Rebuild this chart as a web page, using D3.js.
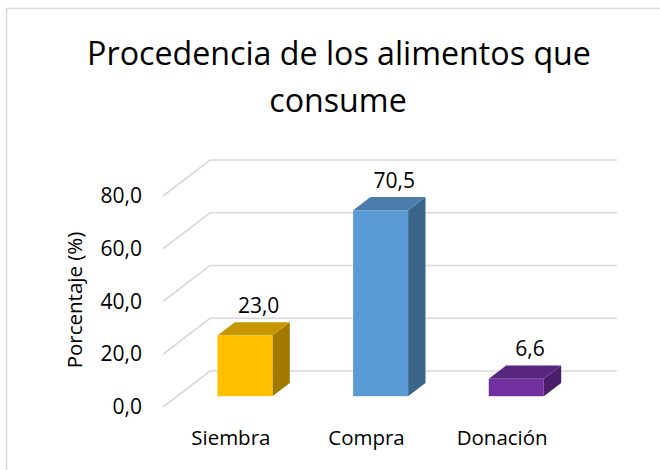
<!DOCTYPE html>
<html>
<head>
<meta charset="utf-8">
<script src="https://cdn.jsdelivr.net/npm/d3@7"></script>
<style>
  body { margin: 0; background: #fff; }
  text { font-family: "Open Sans", "Noto Sans", sans-serif; fill: #000; }
</style>
</head>
<body>
<svg id="chart" width="660" height="470"></svg>
<script>
// datos del grafico
const categories = ["Siembra", "Compra", "Donación"];
const values = [23.0, 70.5, 6.6];
const ticks = [0, 20, 40, 60, 80];
const frontColors = ["#FFC000", "#5B9BD5", "#7030A0"];
const sideColors = ["#A37A00", "#3B6489", "#4A1E6B"];
const topColors = ["#C69700", "#4A7DAB", "#58257F"];

const svg = d3.select("#chart");
const fmt = v => d3.format(".1f")(v).replace(".", ",");

// borde del area del grafico
svg.append("rect")
  .attr("x", 6.5).attr("y", 8.5)
  .attr("width", 700).attr("height", 500)
  .attr("fill", "#fff").attr("stroke", "#D9D9D9").attr("stroke-width", 1.5);

// proyeccion 3D simple: origen frente-piso, vector de profundidad
const x0 = 163, y0 = 407, depthX = 47, depthY = 36;
const x = d3.scaleBand().domain(categories).range([0, 407]);
const y = d3.scaleLinear().domain([0, 80]).range([0, 211]);
const P = (px, v, t) => [x0 + px + t * depthX, y0 - y(v) - t * depthY];

// lineas de cuadricula (pared izquierda + pared del fondo)
const grid = svg.append("g").attr("class", "grid");
ticks.forEach(t => {
  const a = P(0, t, 0), b = P(0, t, 1), c = P(407, t, 1);
  grid.append("path")
    .attr("d", d3.line()([a, b, c]))
    .attr("fill", "none").attr("stroke", "#D9D9D9").attr("stroke-width", 1.6);
});

// etiquetas del eje Y
svg.append("g").selectAll("text")
  .data(ticks).enter().append("text")
  .attr("x", 142)
  .attr("y", d => P(0, d, 0)[1] + 7)
  .attr("text-anchor", "end")
  .attr("font-size", 21)
  .text(d => fmt(d));

// barras
const barT = 0.3, barD = 0.37, barW = 55;
const bars = svg.append("g").attr("class", "bars");
categories.forEach((c, i) => {
  const cx = x(c) + x.bandwidth() / 2;
  const l = cx - barW / 2, r = cx + barW / 2, v = values[i];
  const line = d3.line();
  // cara lateral
  bars.append("path")
    .attr("d", line([P(r, 0, barT), P(r, 0, barT + barD), P(r, v, barT + barD), P(r, v, barT)]) + "Z")
    .attr("fill", sideColors[i]);
  // cara superior
  bars.append("path")
    .attr("d", line([P(l, v, barT), P(r, v, barT), P(r, v, barT + barD), P(l, v, barT + barD)]) + "Z")
    .attr("fill", topColors[i]);
  // cara frontal
  const f0 = P(l, v, barT), f1 = P(r, 0, barT);
  bars.append("rect")
    .attr("x", f0[0]).attr("y", f0[1])
    .attr("width", f1[0] - f0[0]).attr("height", f1[1] - f0[1])
    .attr("fill", frontColors[i]);
  // etiqueta de valor
  const lp = P(cx, v, barT + barD);
  const lx = P(cx, v, barT + barD / 2)[0];
  svg.append("text")
    .attr("x", lx + 5).attr("y", lp[1] - 9)
    .attr("text-anchor", "middle")
    .attr("font-size", 21)
    .text(fmt(v));
});

// etiquetas de categoria
svg.append("g").selectAll("text")
  .data(categories).enter().append("text")
  .attr("x", d => x0 + x(d) + x.bandwidth() / 2)
  .attr("y", 445)
  .attr("text-anchor", "middle")
  .attr("font-size", 20.5)
  .text(d => d);

// titulo del eje Y
svg.append("text")
  .attr("transform", "translate(82,300) rotate(-90)")
  .attr("text-anchor", "middle")
  .attr("font-size", 20.5)
  .text("Porcentaje (%)");

// titulo
const title = svg.append("text")
  .attr("text-anchor", "middle")
  .attr("font-size", 32.2);
title.append("tspan").attr("x", 339).attr("y", 65).text("Procedencia de los alimentos que");
title.append("tspan").attr("x", 338).attr("y", 112).text("consume");
</script>
</body>
</html>
